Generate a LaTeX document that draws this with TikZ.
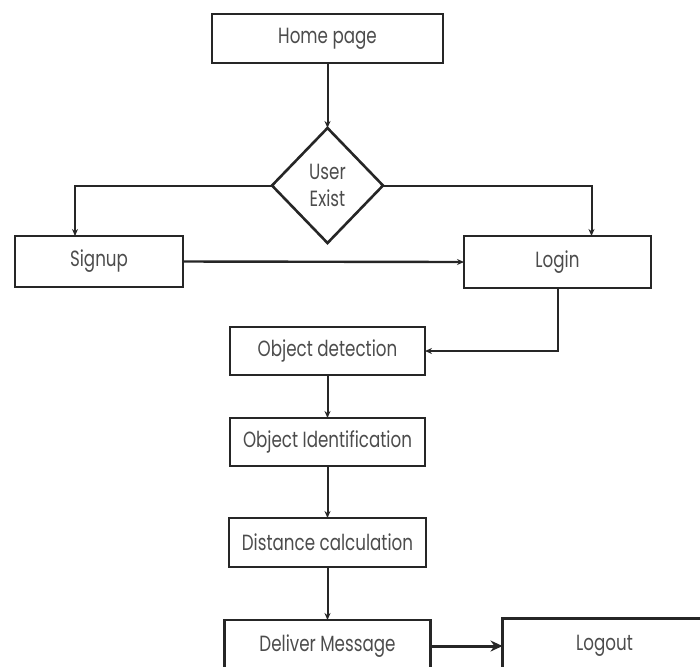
\documentclass[tikz,border=0pt]{standalone}
\usepackage{fontspec}
\newfontfamily\flowfont[FakeStretch=0.76]{Poppins}
\usetikzlibrary{positioning,shapes.geometric,arrows.meta}

\begin{document}
\begin{tikzpicture}[
    x=1pt, y=1pt,
    box/.style={rectangle, draw=black!85, line width=1.3pt, outer sep=0pt, minimum height=24.5pt, inner sep=2pt, text=black!70, font=\flowfont\fontsize{11}{13.5}\selectfont},
    decision/.style={diamond, draw=black!85, line width=1.3pt, outer sep=0pt, minimum width=55.5pt, minimum height=57.5pt, inner sep=0pt, align=center, text=black!70, font=\flowfont\fontsize{11}{13.5}\selectfont},
    arrow/.style={-{Stealth[length=3.5pt,width=3pt]}, line width=1pt, draw=black!85}
]
\useasboundingbox (0,0) rectangle (350,-333);
\clip (0,0) rectangle (350,-333);

% Flow nodes
\node[box, minimum width=115.5pt] (home) at (163.75,-19.25) {Home page};
\node[decision, below=32.5pt of home] (exist) {User\\Exist};
\node[box, minimum width=84pt, minimum height=25.5pt] (signup) at (49.5,-130.75) {Signup};
\node[box, minimum width=93.5pt, minimum height=26pt] (login) at (278.75,-131) {Login};
\node[box, minimum width=97.5pt, minimum height=24pt, below=42pt of exist] (objdet) {Object detection};
\node[box, minimum width=97.5pt, minimum height=24pt, below=21.5pt of objdet] (objid) {Object Identification};
\node[box, minimum width=98.5pt, below=26pt of objid] (dist) {Distance calculation};
\node[box, minimum width=103pt, minimum height=26pt, below=26.5pt of dist] (deliver) {Deliver Message};
\node[box, minimum width=102pt, minimum height=27.5pt, right=36pt of deliver] (logout) {Logout};

% Arrows
\draw[arrow] (home) -- (exist);
\draw[arrow] (exist.west) -| ([xshift=-12pt]signup.north);
\draw[arrow] (exist.east) -| ([xshift=17pt]login.north);
\draw[arrow, line width=1.2pt] (signup.east) -- (login.west);
\draw[arrow] (login.south) |- (objdet.east);
\draw[arrow] (objdet) -- (objid);
\draw[arrow] (objid) -- (dist);
\draw[arrow] (dist) -- (deliver);
\draw[-{Stealth[length=6pt,width=5.5pt]}, line width=1.5pt, draw=black!85] (deliver) -- (logout);

\end{tikzpicture}
\end{document}
